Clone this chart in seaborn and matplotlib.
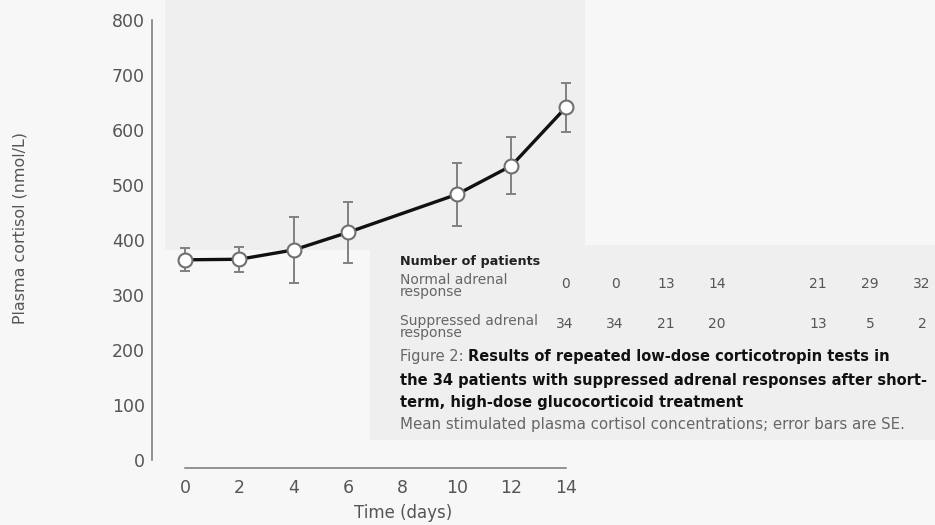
import matplotlib
matplotlib.use("Agg")
import matplotlib.pyplot as plt
import seaborn as sns
import pandas as pd
from matplotlib.patches import Rectangle

# Mean stimulated plasma cortisol (nmol/L) and standard errors by day
days = [0, 2, 4, 6, 10, 12, 14]
cortisol_mean = [364, 365, 382, 414, 483, 535, 641]
cortisol_se = [21, 23, 60, 56, 57, 52, 45]

# Number of patients per test
normal_counts = [0, 0, 13, 14, 21, 29, 32]
suppressed_counts = [34, 34, 21, 20, 13, 5, 2]

y_ticks = [0, 100, 200, 300, 400, 500, 600, 700, 800]
x_ticks = [0, 2, 4, 6, 8, 10, 12, 14]

df = pd.DataFrame({"day": days, "cortisol": cortisol_mean, "se": cortisol_se})

sns.set_theme(style="white")
plt.rcParams["font.family"] = ["DejaVu Sans"]

W, H = 935, 525
fig = plt.figure(figsize=(W / 100, H / 100), dpi=100, facecolor="#f7f7f7")


def fx(px):
    return px / W


def fy(py):
    return 1 - py / H


# faint shaded panels behind the plot and the caption block
bg = fig.add_axes([0, 0, 1, 1], zorder=-10)
bg.set_xlim(0, W)
bg.set_ylim(H, 0)
bg.axis("off")
bg.add_patch(Rectangle((165, 0), 420, 250, facecolor="#efefef", edgecolor="none"))
bg.add_patch(Rectangle((370, 245), 565, 195, facecolor="#efefef", edgecolor="none"))

ax = fig.add_axes([fx(152), fy(468), fx(441), 448 / H])
ax.set_facecolor("none")

grey = "#6a6a6a"
ax.errorbar(df["day"], df["cortisol"], yerr=df["se"], fmt="none", ecolor="#808080",
            elinewidth=1.4, capsize=3.5, capthick=1.4, zorder=2)
sns.lineplot(data=df, x="day", y="cortisol", ax=ax, color="#111111", linewidth=2.4,
             marker="o", markersize=10, markerfacecolor="white", markeredgecolor="#707070",
             markeredgewidth=1.5, zorder=3)

ax.set_xlim(-1.213, 15)
ax.set_ylim(-14.5, 800)
ax.set_xticks(x_ticks)
ax.set_yticks(y_ticks)
ax.tick_params(axis="both", labelsize=12.5, colors=grey, length=3, width=1, direction="out",
               pad=2, labelcolor="#555555")
ax.tick_params(axis="x", pad=5)
for s in ("top", "right"):
    ax.spines[s].set_visible(False)
for s in ("left", "bottom"):
    ax.spines[s].set_color("#777777")
    ax.spines[s].set_linewidth(1.1)
ax.spines["left"].set_bounds(0, 800)
ax.spines["bottom"].set_bounds(0, 14)
ax.set_xlabel("")
ax.set_ylabel("")

fig.text(fx(20), fy(228), "Plasma cortisol (nmol/L)", rotation=90, ha="center", va="center",
         fontsize=11.4, color="#555555")
fig.text(fx(403), fy(513), "Time (days)", ha="center", va="center", fontsize=12,
         color="#555555")

# patient count table
fig.text(fx(400), fy(261), "Number of patients", ha="left", va="center", fontsize=9.2,
         fontweight="bold", color="#222222")
fig.text(fx(400), fy(286), "Normal adrenal\nresponse", ha="left", va="center", fontsize=10,
         color="#666666", linespacing=0.85)
fig.text(fx(400), fy(327), "Suppressed adrenal\nresponse", ha="left", va="center", fontsize=10,
         color="#666666", linespacing=0.85)
col_x = [565, 615, 666, 717, 818, 870, 922]
for cx, n, s in zip(col_x, normal_counts, suppressed_counts):
    fig.text(fx(cx), fy(284), str(n), ha="center", va="center", fontsize=10, color="#555555")
    fig.text(fx(cx), fy(324), str(s), ha="center", va="center", fontsize=10, color="#555555")

# caption
t1 = fig.text(fx(400), fy(357), "Figure 2: ", ha="left", va="center", fontsize=10.5,
              color="#666666")
ax.annotate("Results of repeated low-dose corticotropin tests in", xy=(1, 0.5),
            xycoords=t1, ha="left", va="center", fontsize=10.5, fontweight="bold",
            color="#111111", annotation_clip=False)
fig.text(fx(400), fy(380), "the 34 patients with suppressed adrenal responses after short-",
         ha="left", va="center", fontsize=10.5, fontweight="bold", color="#111111")
fig.text(fx(400), fy(402), "term, high-dose glucocorticoid treatment",
         ha="left", va="center", fontsize=10.5, fontweight="bold", color="#111111")
fig.text(fx(400), fy(424), "Mean stimulated plasma cortisol concentrations; error bars are SE.",
         ha="left", va="center", fontsize=10.8, color="#666666")

fig.savefig("out.png", dpi=100, facecolor=fig.get_facecolor())
